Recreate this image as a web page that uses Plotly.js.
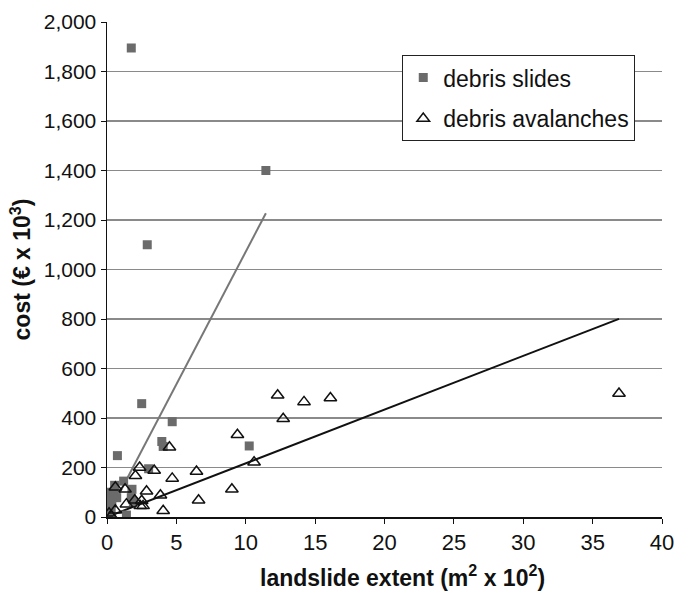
<!DOCTYPE html>
<html>
<head>
<meta charset="utf-8">
<script src="https://cdn.plot.ly/plotly-3.0.1.min.js"></script>
<style>
  html, body { margin: 0; padding: 0; background: #fff; }
  #chart { width: 676px; height: 594px; }
</style>
</head>
<body>
<div id="chart"></div>
<script>
// Debris slides: extent (m² x 10²) and cost (€ x 10³)
const slidesX = [1.75, 11.45, 2.9, 2.5, 4.7, 3.95, 4.05, 10.25, 0.75, 3.0,
                 1.2, 0.55, 1.8, 0.25, 0.7, 0.1, 1.75, 1.4, 0.1, 0.05,
                 0.35, 0.2, 0.5, 0.3, 1.9];
const slidesY = [1895, 1400, 1100, 458, 385, 305, 285, 287, 248, 195,
                 145, 128, 112, 100, 78, 72, 78, 8, 17, 40,
                 55, 85, 95, 30, 62];

// Debris avalanches
const avalX = [36.9, 12.3, 14.2, 16.1, 12.7, 9.4, 10.6, 4.5, 6.45, 9.0,
               6.6, 4.7, 4.05, 3.85, 3.4, 2.35, 2.05, 2.85, 2.5, 2.6,
               2.4, 2.0, 1.4, 1.3, 0.6, 0.6, 0.15, 0.3];
const avalY = [499, 492, 465, 481, 397, 332, 221, 282, 184, 112,
               68, 156, 25, 88, 188, 200, 167, 104, 66, 45,
               45, 68, 52, 112, 120, 27, 15, 5];

// Linear trendlines through the origin (slope, x-range)
const slidesSlope = 107.2;
const slidesRange = [0.05, 11.45];
const avalSlope = 21.7;
const avalRange = [0.15, 36.9];

// Axis ticks
const xTicks = [0, 5, 10, 15, 20, 25, 30, 35, 40];
const yTicks = [0, 200, 400, 600, 800, 1000, 1200, 1400, 1600, 1800, 2000];
const yTickText = ['0', '200', '400', '600', '800', '1,000', '1,200', '1,400', '1,600', '1,800', '2,000'];

const FONT = 'Liberation Sans, Arial, sans-serif';

const traces = [
  {
    x: slidesRange,
    y: slidesRange.map(v => v * slidesSlope),
    mode: 'lines',
    line: { color: '#777777', width: 2 },
    showlegend: false,
    hoverinfo: 'skip'
  },
  {
    x: avalRange,
    y: avalRange.map(v => v * avalSlope),
    mode: 'lines',
    line: { color: '#111111', width: 2 },
    showlegend: false,
    hoverinfo: 'skip'
  },
  {
    name: 'debris slides',
    legendgroup: 'slides',
    x: slidesX,
    y: slidesY,
    mode: 'markers',
    marker: { symbol: 'square', size: 9, color: '#6b6b6b', line: { width: 0 } }
  },
  {
    name: 'debris avalanches',
    legendgroup: 'avalanches',
    x: avalX,
    y: avalY,
    mode: 'markers',
    marker: { symbol: 'triangle-up-open', size: 11, color: '#111111', line: { width: 1.5 } }
  }
];

const layout = {
  width: 676,
  height: 594,
  margin: { l: 107, r: 14, t: 22, b: 77 },
  paper_bgcolor: '#ffffff',
  plot_bgcolor: '#ffffff',
  font: { family: FONT, color: '#111111', size: 21 },
  showlegend: true,
  legend: {
    x: 0.532, y: 0.933, xanchor: 'left', yanchor: 'top',
    bordercolor: '#222222', borderwidth: 1, bgcolor: '#ffffff',
    font: { family: FONT, size: 23, color: '#111111' },
    traceorder: 'grouped',
    tracegroupgap: 8
  },
  xaxis: {
    range: [0, 40],
    tickvals: xTicks,
    ticktext: xTicks.map(String),
    showgrid: false,
    zeroline: false,
    showline: true,
    linecolor: '#111111',
    linewidth: 1.5,
    ticks: 'outside',
    ticklen: 5,
    tickcolor: '#111111',
    tickfont: { family: FONT, size: 22, color: '#111111' }
  },
  yaxis: {
    range: [0, 2000],
    tickvals: yTicks,
    ticktext: yTickText,
    showgrid: true,
    gridcolor: '#8a8a8a',
    gridwidth: 1.5,
    zeroline: false,
    showline: true,
    linecolor: '#111111',
    linewidth: 1.5,
    ticks: 'outside',
    ticklen: 5,
    tickcolor: '#111111',
    tickfont: { family: FONT, size: 21, color: '#111111' },
    title: {
      text: '<b>cost (€ x 10<sup>3</sup>)</b>',
      font: { family: FONT, size: 23, color: '#111111' },
      standoff: 6
    }
  },
  annotations: [
    {
      // x-axis title, set slightly right of the plot centre
      text: '<b>landslide extent (m<sup>2</sup> x 10<sup>2</sup>)</b>',
      xref: 'paper', yref: 'paper',
      x: 0.533, y: -0.085,
      xanchor: 'center', yanchor: 'top',
      showarrow: false,
      font: { family: FONT, size: 23, color: '#111111' }
    }
  ]
};

Plotly.newPlot('chart', traces, layout, { displayModeBar: false, staticPlot: true });
</script>
</body>
</html>
